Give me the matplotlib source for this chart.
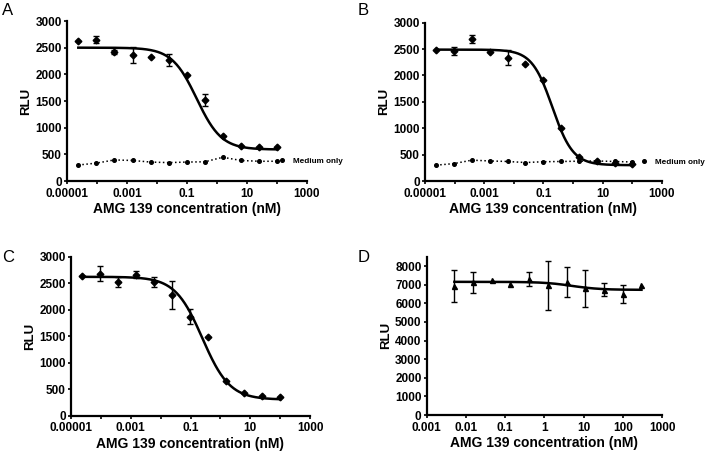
import numpy as np
import matplotlib
matplotlib.use("Agg")
import matplotlib.pyplot as plt
from matplotlib.lines import Line2D

plt.rcParams["font.family"] = ["Liberation Sans", "DejaVu Sans"]

# concentrations (nM): 4-fold dilutions for A-C, 3-fold for D
conc_abc = [2.38e-5, 9.5e-5, 3.8e-4, 1.53e-3, 6.1e-3, 0.0244, 0.0977, 0.391, 1.56, 6.25, 25.0, 100.0]
conc_d = [0.00508, 0.0152, 0.0457, 0.137, 0.412, 1.23, 3.70, 11.1, 33.3, 100.0, 300.0]

a_rlu = [2620, 2650, 2420, 2370, 2330, 2265, 1985, 1515, 840, 660, 640, 640]
a_sem = [0, 60, 40, 150, 0, 110, 0, 110, 0, 0, 0, 0]
a_medium = [300, 335, 395, 385, 355, 345, 355, 360, 445, 385, 370, 370]
a_fit = (2500, 590, 0.21, 1.05)  # top, bottom, IC50, hill

b_rlu = [2490, 2460, 2690, 2440, 2340, 2210, 1910, 1010, 450, 370, 350, 320]
b_sem = [0, 80, 80, 0, 135, 0, 0, 0, 0, 0, 0, 0]
b_medium = [300, 330, 395, 380, 370, 350, 365, 370, 375, 380, 370, 360]
b_fit = (2490, 300, 0.20, 1.25)

c_rlu = [2635, 2680, 2520, 2660, 2530, 2280, 1870, 1485, 645, 425, 375, 345]
c_sem = [0, 140, 90, 65, 95, 260, 140, 0, 0, 0, 0, 0]
c_fit = (2620, 300, 0.25, 0.95)

d_rlu = [6925, 7120, 7270, 7010, 7310, 6960, 7130, 6800, 6720, 6490, 7000]
d_sem = [870, 550, 0, 0, 380, 1300, 810, 980, 350, 470, 0]
d_fit = (7150, 6720, 5.0, 1.2)

W, H = 709, 454


def px_axes(fig, left, right, top, bottom):
    return fig.add_axes([left / W, 1 - bottom / H, (right - left) / W, (bottom - top) / H])


def four_pl(x, top, bottom, ic50, hill):
    return bottom + (top - bottom) / (1 + (x / ic50) ** hill)


def style(ax, ylim, yticks, xticks, xlabels):
    ax.set_xscale("log")
    ax.set_xlim(xticks[0], xticks[-1])
    ax.set_ylim(*ylim)
    ax.set_xticks(xticks)
    ax.set_xticklabels(xlabels)
    ax.minorticks_off()
    ax.set_yticks(yticks)
    ax.set_yticklabels([str(v) for v in yticks])
    for s in ("top", "right"):
        ax.spines[s].set_visible(False)
    for s in ("left", "bottom"):
        ax.spines[s].set_linewidth(1.6)
    ax.tick_params(length=2.5, width=1.2, labelsize=8.5)
    ax.tick_params(axis="y", pad=1.2)
    ax.tick_params(axis="x", pad=2.2)
    for lab in ax.get_xticklabels() + ax.get_yticklabels():
        lab.set_fontweight("bold")
    ax.set_ylabel("RLU", fontsize=9.5, fontweight="bold", labelpad=2)
    ax.set_xlabel("AMG 139 concentration (nM)", fontsize=10, fontweight="bold", labelpad=2)


def draw(ax, conc, rlu, sem, fit, marker, ms):
    conc = np.array(conc)
    rlu = np.array(rlu)
    sem = np.array(sem)
    xs = np.logspace(np.log10(conc[0]), np.log10(conc[-1]), 300)
    ax.plot(xs, four_pl(xs, *fit), color="black", lw=1.8, zorder=3)
    ax.plot(conc, rlu, marker, color="black", ms=ms, zorder=4)
    m = sem > 0
    ax.errorbar(conc[m], rlu[m], yerr=sem[m], fmt="none", ecolor="black",
                elinewidth=1.0, capsize=2.2, capthick=1.0, zorder=4)


def medium(ax, conc, vals, anchor):
    ax.plot(conc, vals, linestyle=":", marker="o", color="black", ms=2.6, lw=1.1)
    handle = Line2D([], [], linestyle="none", marker="o", color="black", ms=2.6)
    ax.legend([handle], ["Medium only"], loc="center left", bbox_to_anchor=anchor,
              frameon=False, handlelength=1.0, handletextpad=0.9, borderpad=0,
              borderaxespad=0, prop={"size": 5.9, "weight": "bold"})


fig = plt.figure(figsize=(W / 100, H / 100), dpi=100)

xt = [1e-5, 1e-4, 1e-3, 1e-2, 1e-1, 1, 10, 100, 1000]
xl = ["0.00001", "", "0.001", "", "0.1", "", "10", "", "1000"]
yt3 = [0, 500, 1000, 1500, 2000, 2500, 3000]

ax_a = px_axes(fig, 67, 307, 21, 181)
style(ax_a, (0, 3000), yt3, xt, xl)
draw(ax_a, conc_abc, a_rlu, a_sem, a_fit, "D", 3.4)
medium(ax_a, conc_abc, a_medium, (0.878, 0.125))

ax_b = px_axes(fig, 425, 662, 22.7, 181)
style(ax_b, (0, 3000), yt3, xt, xl)
draw(ax_b, conc_abc, b_rlu, b_sem, b_fit, "D", 3.4)
medium(ax_b, conc_abc, b_medium, (0.905, 0.12))

ax_c = px_axes(fig, 71, 310, 256.7, 415.5)
style(ax_c, (0, 3000), yt3, xt, xl)
draw(ax_c, conc_abc, c_rlu, c_sem, c_fit, "D", 3.4)

xt_d = [1e-3, 1e-2, 1e-1, 1, 10, 100, 1000]
xl_d = ["0.001", "0.01", "0.1", "1", "10", "100", "1000"]
ax_d = px_axes(fig, 426.7, 662, 256.7, 415)
style(ax_d, (0, 8500), list(range(0, 8001, 1000)), xt_d, xl_d)
draw(ax_d, conc_d, d_rlu, d_sem, d_fit, "^", 3.6)

for letter, x, y in [("A", 2, 15), ("B", 358, 15), ("C", 2, 262), ("D", 358, 262)]:
    fig.text(x / W, 1 - y / H, letter, fontsize=12, va="baseline", ha="left")

fig.savefig("out.png", dpi=100)
